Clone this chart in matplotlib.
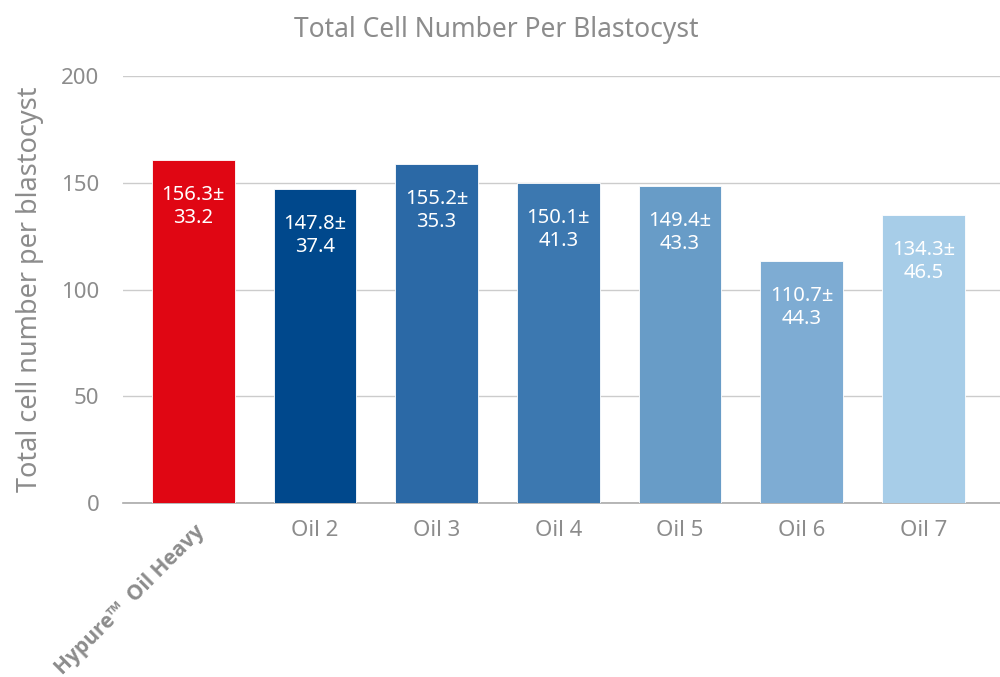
# total cell number per blastocyst, bar chart

import matplotlib
matplotlib.use("Agg")
import matplotlib.pyplot as plt
import matplotlib.transforms as mtransforms

plt.rcParams["font.family"] = ["Noto Sans", "DejaVu Sans"]

categories = ["Hypure\u2122  Oil Heavy", "Oil 2", "Oil 3", "Oil 4", "Oil 5", "Oil 6", "Oil 7"]
# bar heights as drawn
heights = [160.6, 146.9, 158.8, 150.0, 148.5, 113.5, 134.8]
# mean ± sd printed in the bars
means = ["156.3", "147.8", "155.2", "150.1", "149.4", "110.7", "134.3"]
sds = ["33.2", "37.4", "35.3", "41.3", "43.3", "44.3", "46.5"]
yticks = [0, 50, 100, 150, 200]

colors = ["#e00613", "#00488c", "#2b69a6", "#3c78b0", "#689cc7", "#7eacd3", "#a7cde8"]
grey = "#8c8c8c"

fig = plt.figure(figsize=(10, 6.77), dpi=100)
ax = fig.add_axes([0.123, 0.2566, 0.877, 0.6311])

x = list(range(len(categories)))
bars = ax.bar(x, heights, width=0.68, color=colors, edgecolor="#ffffff",
              linewidth=0.6, zorder=3)

for xi, h, m, s in zip(x, heights, means, sds):
    ax.annotate(m + "\u00b1\n" + s, (xi, h), xytext=(0, -18), textcoords="offset points",
                ha="center", va="top", color="white", fontsize=14.5,
                linespacing=1.2, zorder=4)

ax.set_xlim(-0.577, 6.63)
ax.set_ylim(0, 200)
ax.set_yticks(yticks)
ax.yaxis.grid(True, color="#cccccc", linewidth=1, zorder=0)
ax.tick_params(axis="y", length=0, pad=17, labelsize=16, labelcolor=grey)
ax.tick_params(axis="x", length=0, pad=12, labelsize=16, labelcolor=grey)

for side in ["top", "right", "left"]:
    ax.spines[side].set_visible(False)
ax.spines["bottom"].set_color("#aaaaaa")
ax.spines["bottom"].set_linewidth(1.2)

ax.set_xticks(x)
ax.set_xticklabels(categories)
first = ax.get_xticklabels()[0]
first.set_rotation(45)
first.set_rotation_mode("anchor")
first.set_ha("right")
first.set_va("center")
first.set_family(["Open Sans", "DejaVu Sans"])
first.set_fontweight("bold")
first.set_fontsize(15)
first.set_transform(first.get_transform() + mtransforms.ScaledTranslation(6 / 72, -6 / 72, fig.dpi_scale_trans))

ax.set_ylabel("Total cell number per blastocyst", fontsize=19.5, color=grey, labelpad=12)
fig.text(0.496, 0.955, "Total Cell Number Per Blastocyst", ha="center", va="center",
         fontsize=19, color=grey)

fig.savefig("out.png", dpi=100)
